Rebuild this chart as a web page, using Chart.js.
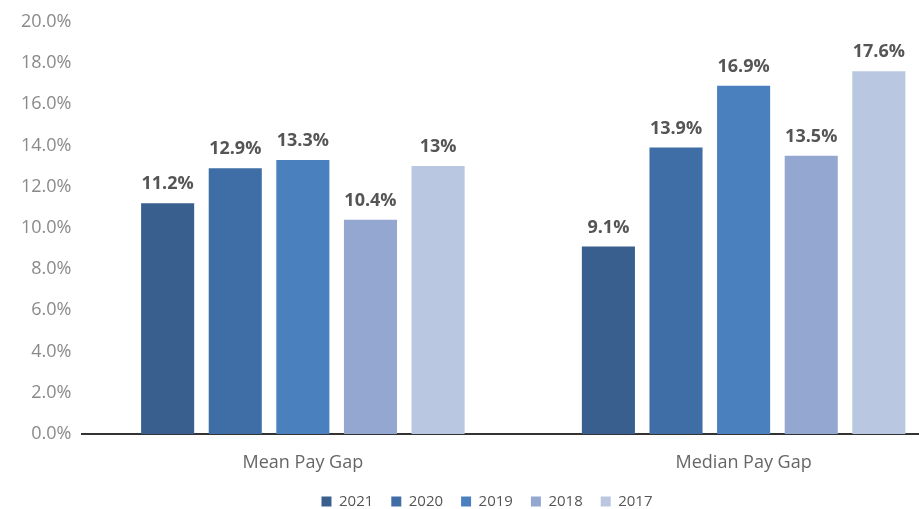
<!DOCTYPE html>
<html>
<head>
<meta charset="utf-8">
<script src="https://cdn.jsdelivr.net/npm/chart.js@4"></script>
<style>
    html, body { margin: 0; padding: 0; background: #fff; overflow: hidden; }
    #wrap { width: 919px; height: 509px; overflow: hidden; }
</style>
</head>
<body>
<div id="wrap"><canvas id="payGapChart" width="992" height="519"></canvas></div>
<script>
const categories = ['Mean Pay Gap', 'Median Pay Gap'];
const years = ['2021', '2020', '2019', '2018', '2017'];
const gap2021 = [11.2, 9.1];
const gap2020 = [12.9, 13.9];
const gap2019 = [13.3, 16.9];
const gap2018 = [10.4, 13.5];
const gap2017 = [13, 17.6];
const yTicks = [0, 2, 4, 6, 8, 10, 12, 14, 16, 18, 20];

const colors = ['#395f8e', '#3f6ea6', '#4b80be', '#93a7d1', '#bac7e0'];
const seriesValues = [gap2021, gap2020, gap2019, gap2018, gap2017];

// value labels above each bar
const barLabels = {
    id: 'barLabels',
    afterDatasetsDraw(chart) {
        const ctx = chart.ctx;
        ctx.save();
        ctx.font = 'bold 18px "Open Sans", sans-serif';
        ctx.fillStyle = '#555555';
        ctx.textAlign = 'center';
        ctx.textBaseline = 'middle';
        chart.data.datasets.forEach((ds, i) => {
            chart.getDatasetMeta(i).data.forEach((bar, j) => {
                ctx.fillText(ds.data[j] + '%', bar.x, bar.y - 19);
            });
        });
        ctx.restore();
    }
};

new Chart(document.getElementById('payGapChart').getContext('2d'), {
    type: 'bar',
    data: {
        labels: categories,
        datasets: years.map((y, i) => ({
            label: y,
            data: seriesValues[i],
            backgroundColor: colors[i],
            categoryPercentage: 0.767,
            barPercentage: 0.785
        }))
    },
    options: {
        responsive: false,
        animation: false,
        layout: { padding: { top: 10, right: 28, left: 10, bottom: 0 } },
        plugins: {
            legend: {
                position: 'bottom',
                labels: {
                    boxWidth: 10,
                    boxHeight: 10,
                    padding: 18,
                    color: '#555555',
                    font: { size: 15, family: '"Open Sans", sans-serif' }
                }
            },
            tooltip: { enabled: false }
        },
        scales: {
            x: {
                grid: { display: false, drawTicks: false },
                border: { color: '#333333', width: 2 },
                afterFit: scale => { scale.height = 42; },
                ticks: {
                    color: '#666666',
                    padding: 18,
                    font: { size: 18, family: '"Open Sans", sans-serif' }
                }
            },
            y: {
                min: 0,
                max: 20,
                afterBuildTicks: axis => { axis.ticks = yTicks.map(v => ({ value: v })); },
                grid: { display: false, drawTicks: false },
                border: { display: false },
                ticks: {
                    color: '#8a8a8a',
                    padding: 11,
                    font: { size: 18, family: '"Open Sans", sans-serif' },
                    callback: v => v.toFixed(1) + '%'
                }
            }
        }
    },
    plugins: [barLabels]
});
</script>
</body>
</html>
